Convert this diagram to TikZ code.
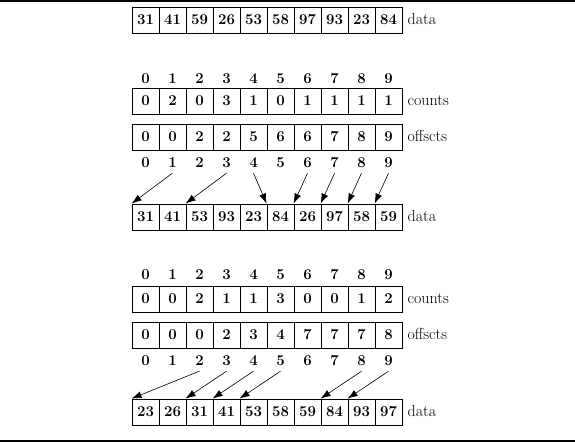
\documentclass[tikz,border=0pt]{standalone}
\usepackage{tikz}
\usetikzlibrary{math}
\usetikzlibrary{arrows.meta}

\tikzset{
  cell/.style={draw, line width=0.8pt, minimum width=27pt, minimum height=26pt, inner sep=0pt, font=\fontsize{15}{17}\selectfont\bfseries},
  idx/.style={inner sep=0pt, font=\fontsize{15}{17}\selectfont\bfseries},
  lab/.style={anchor=base west, xshift=5pt, inner sep=0pt, font=\fontsize{16}{18}\selectfont},
}

\begin{document}
\begin{tikzpicture}[x=1pt, y=-1pt, >={Latex[length=10pt,width=7pt]}]

    \useasboundingbox (0,0) rectangle (575,443);
    \draw [line width=2pt] (0,1) -- (575,1);
    \draw [line width=2pt] (0,441) -- (575,441);

    \tikzmath{\ya = 20; \yb = 79; \yc = 101; \yd = 137; \ye = 163; \yf = 217;};
    \tikzmath{\yg = 275; \yh = 299; \yi = 335; \yj = 361; \yk = 412;};

    % unsorted data
    \foreach \v [count=\i from 0] in {31,41,59,26,53,58,97,93,23,84}
        \node [cell] (a\i) at (145.5+27*\i,\ya) {\v};
    \node [lab] (adata) at (a9.base east) {data};

    % pass 1: last digit
    \foreach \i in {0,...,9}
        \node [idx] (pa\i) at (145.5+27*\i,\yb) {\i};
    \foreach \v [count=\i from 0] in {0,2,0,3,1,0,1,1,1,1}
        \node [cell] (c\i) at (145.5+27*\i,\yc) {\v};
    \node [lab] (ccounts) at (c9.base east) {counts};
    \foreach \v [count=\i from 0] in {0,0,2,2,5,6,6,7,8,9}
        \node [cell] (o\i) at (145.5+27*\i,\yd) {\v};
    \node [lab] (ooffs) at (o9.base east) {offscts};
    \foreach \i in {0,...,9}
        \node [idx] (pb\i) at (145.5+27*\i,\ye) {\i};
    \foreach \v [count=\i from 0] in {31,41,53,93,23,84,26,97,58,59}
        \node [cell] (b\i) at (145.5+27*\i,\yf) {\v};
    \node [lab] (bdata) at (b9.base east) {data};

    \foreach \s/\t in {1/0,3/2,4/5,6/6,7/7,8/8,9/9}
        \draw [->, line width=0.6pt] ([yshift=-5pt]pb\s.south) -- (b\t.north west);

    % pass 2: first digit
    \foreach \i in {0,...,9}
        \node [idx] (pc\i) at (145.5+27*\i,\yg) {\i};
    \foreach \v [count=\i from 0] in {0,0,2,1,1,3,0,0,1,2}
        \node [cell] (e\i) at (145.5+27*\i,\yh) {\v};
    \node [lab] (ecounts) at (e9.base east) {counts};
    \foreach \v [count=\i from 0] in {0,0,0,2,3,4,7,7,7,8}
        \node [cell] (f\i) at (145.5+27*\i,\yi) {\v};
    \node [lab] (foffs) at (f9.base east) {offscts};
    \foreach \i in {0,...,9}
        \node [idx] (pd\i) at (145.5+27*\i,\yj) {\i};
    \foreach \v [count=\i from 0] in {23,26,31,41,53,58,59,84,93,97}
        \node [cell] (g\i) at (145.5+27*\i,\yk) {\v};
    \node [lab] (gdata) at (g9.base east) {data};

    \foreach \s/\t in {2/0,3/2,4/3,5/4,8/7,9/8}
        \draw [->, line width=0.6pt] ([yshift=-5pt]pd\s.south) -- (g\t.north west);

\end{tikzpicture}
\end{document}
